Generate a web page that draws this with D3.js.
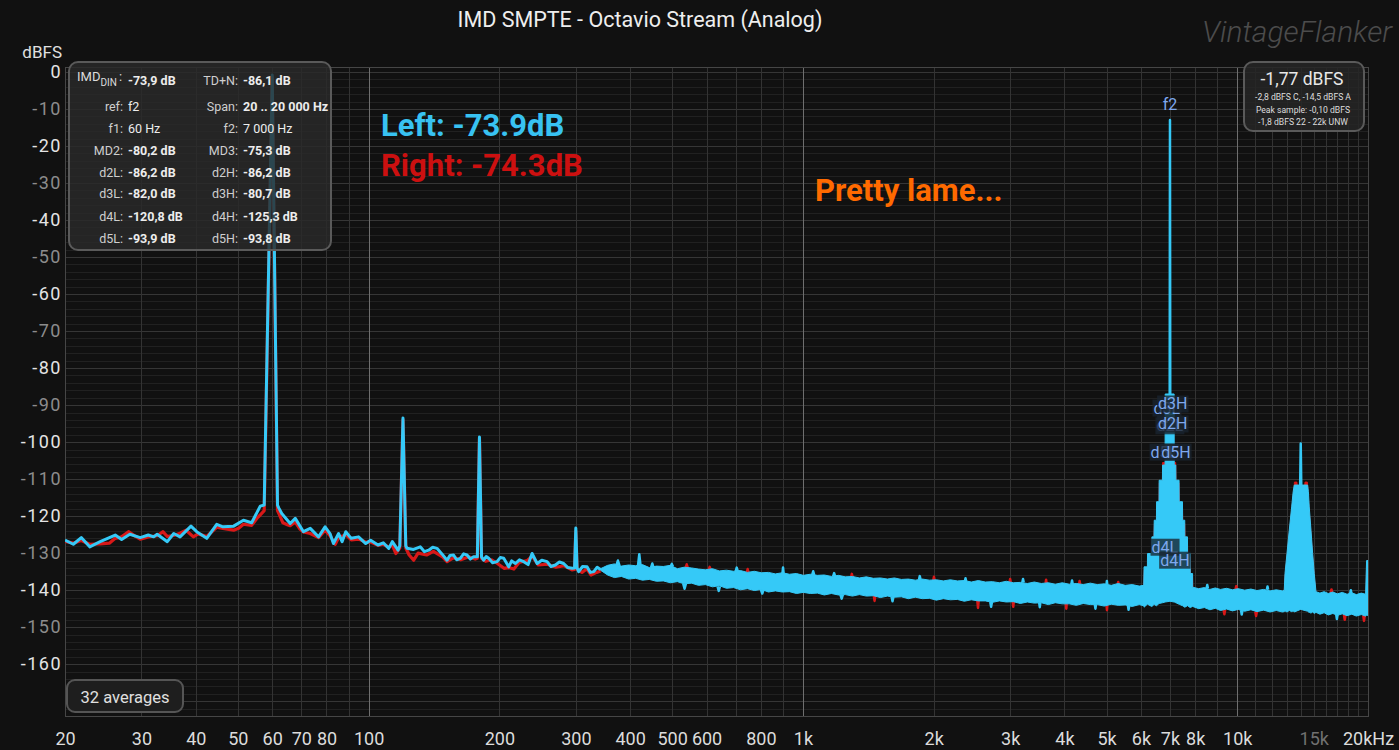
<!DOCTYPE html>
<html><head><meta charset="utf-8">
<script src="https://cdn.jsdelivr.net/npm/d3@7"></script>
<style>
body{margin:0;background:#111111;overflow:hidden}
svg{display:block}
text{font-family:Roboto,"Open Sans",sans-serif}
</style></head>
<body><svg id="c" width="1399" height="750"></svg>
<script>
// ---------------- DATA ----------------
const titleText = "IMD SMPTE - Octavio Stream (Analog)";
const xTickValues = [20,30,40,50,60,70,80,100,200,300,400,500,600,800,1000,2000,3000,4000,5000,6000,7000,8000,10000,15000,20000];
const xTickLabels = ["20","30","40","50","60","70","80","100","200","300","400","500","600","800","1k","2k","3k","4k","5k","6k","7k","8k","10k","15k","20kHz"];
const yTickValues = [0,-10,-20,-30,-40,-50,-60,-70,-80,-90,-100,-110,-120,-130,-140,-150,-160];
const gridFreqs = [30,40,50,60,70,80,90,100,200,300,400,500,600,700,800,900,1000,2000,3000,4000,5000,6000,7000,8000,9000,10000,11000,12000,13000,14000,15000,16000,17000,18000,19000];
const majorGridFreqs = [100,1000,10000];

// Left channel, low-frequency line [Hz, dBFS]
const leftLow = [[20,-126.5],[20.9,-127.6],[21.8,-125.8],[22.8,-128.3],[24.1,-126.9],[26.1,-125.1],[27.0,-126.3],[28.2,-124.9],[29.8,-125.8],[31.1,-125.1],[32.0,-125.6],[32.6,-124.9],[34.4,-126.9],[35.6,-124.7],[36.8,-125.6],[39.0,-122.7],[40.2,-124.2],[42.4,-126.0],[44.7,-122.2],[46.2,-122.9],[48.9,-122.7],[51.5,-121.1],[53.8,-121.8],[56.3,-117.3],[57.5,-117.0],[60,-0.8],[61.7,-117.0],[62.2,-117.9],[63.1,-119.3],[66.0,-122.0],[67.8,-120.6],[70.8,-124.2],[73.4,-123.3],[76.7,-125.6],[79.4,-122.9],[81.5,-124.7],[83.0,-127.4],[85.3,-124.7],[86.9,-126.9],[88.6,-124.2],[91.2,-126.0],[94.8,-125.6],[98.5,-127.4],[101.1,-126.5],[105.1,-127.8],[108.1,-127.2],[111.3,-128.7],[113.4,-126.9],[116.9,-129.2],[118,-128.0],[120,-93.5],[121.8,-128.0],[122.6,-128.7],[126.9,-129.0],[131.5,-128.3],[134.5,-129.6],[137.5,-129.2],[140.5,-128.4],[143.7,-128.7],[147.5,-130.2],[151.6,-131.9],[154.0,-130.6],[156.9,-130.5],[159.5,-131.8],[162.6,-131.4],[165.5,-130.2],[168.5,-130.5],[171.5,-131.6],[174.5,-131.0],[178,-131.0],[180,-98.6],[182,-131.0],[184,-131.9],[186.5,-130.9],[189,-131.4],[193.0,-132.6],[197.6,-132.3],[201.0,-131.2],[204.7,-131.4],[210.2,-133.7],[213.5,-132.1],[217.8,-132.8],[222.5,-131.8],[227.6,-132.3],[233.0,-133.1],[237.9,-130.1],[244.4,-132.8],[250.5,-131.9],[257.6,-132.3],[263.0,-133.6],[269.2,-133.2],[275.0,-132.4],[281.3,-132.8],[287.5,-133.9],[294.2,-134.1],[298,-134.0],[300,-123.2],[302,-134.0],[304.6,-135.0],[311.0,-133.6],[318.4,-133.7],[324.0,-135.2],[330,-135.0],[336.0,-133.8],[342,-134.4]];

// Right channel, low-frequency line [Hz, dBFS]
const rightLow = [[20,-126.8],[20.9,-127.3],[21.8,-126.6],[22.8,-127.6],[24.1,-127.5],[25.3,-127.3],[26.1,-126.0],[27.0,-125.6],[28.0,-124.2],[29.0,-125.4],[29.8,-126.2],[31.1,-125.6],[32.6,-125.3],[33.6,-124.2],[34.4,-125.5],[35.6,-125.2],[36.8,-124.6],[38.0,-123.8],[39.5,-125.6],[40.5,-124.8],[42.4,-125.5],[44.7,-123.0],[46.2,-123.3],[48.9,-123.8],[50.2,-123.3],[51.5,-122.2],[53.8,-122.5],[55.5,-120.4],[56.3,-119.7],[57.5,-118.5],[60,-1.5],[61.7,-118.5],[62.2,-119.4],[63.5,-121.8],[65,-122.3],[66.0,-122.6],[67.8,-121.6],[69.5,-123.5],[70.8,-124.3],[73.4,-124.7],[76.7,-125.8],[79.4,-123.8],[81.5,-125.3],[83.8,-127.6],[85.3,-125.8],[88.6,-125.0],[91.2,-126.4],[94.8,-126.2],[98.5,-127.0],[101.1,-127.0],[105.1,-127.9],[108.1,-127.6],[111.3,-128.4],[113.4,-127.8],[115.5,-130.1],[118,-128.6],[120,-94],[121.8,-128.6],[124,-130.5],[127,-131.9],[130,-130.0],[136,-130.5],[141,-129.5],[148,-131.0],[151.6,-132.3],[157,-131.2],[163,-131.8],[170,-131.0],[176,-131.6],[178,-131.4],[180,-99],[182,-131.4],[186,-132.2],[192,-131.8],[198,-132.8],[205,-134.1],[210,-133.9],[216,-134.3],[222,-132.5],[232,-132.0],[238,-130.8],[246,-133.2],[258,-133.0],[270,-133.8],[282,-133.4],[294,-134.5],[298,-134.4],[300,-124],[302,-134.4],[310,-135.2],[318,-134.2],[325,-135.9],[335,-135.2],[342,-134.8]];

// Left channel, dense noise band [Hz, upper dBFS, lower dBFS]
const leftBand = [[342,-134.2,-134.6],[355,-133.3,-135.9],[368,-132.9,-136.6],[382,-133.5,-136.3],[397,-133.2,-137.0],[412,-133.4,-136.8],[427,-133.1,-137.3],[443,-133.9,-137.1],[460,-133.5,-137.6],[477,-133.6,-137.5],[495,-133.3,-138.0],[514,-134.2,-137.7],[533,-133.8,-138.3],[554,-134.0,-138.1],[575,-134.3,-138.7],[596,-134.5,-138.5],[619,-134.2,-139.1],[642,-134.8,-138.8],[667,-134.6,-139.5],[692,-134.9,-139.3],[718,-134.7,-139.9],[745,-135.2,-139.6],[773,-134.9,-140.1],[802,-135.3,-139.8],[833,-135.2,-140.5],[864,-135.6,-140.2],[897,-135.3,-140.5],[931,-135.7,-140.4],[966,-135.5,-140.9],[1002,-136.0,-140.6],[1040,-135.7,-140.9],[1080,-136.0,-140.8],[1120,-135.9,-141.3],[1163,-136.3,-140.9],[1207,-136.0,-141.3],[1252,-136.4,-141.2],[1300,-136.3,-141.6],[1349,-136.7,-141.2],[1400,-136.4,-141.6],[1453,-136.8,-141.5],[1508,-136.7,-142.0],[1565,-137.0,-141.6],[1624,-136.7,-141.9],[1685,-137.1,-141.8],[1749,-137.0,-142.3],[1815,-137.3,-141.9],[1884,-137.0,-142.3],[1955,-137.3,-142.2],[2029,-137.2,-142.7],[2105,-137.5,-142.3],[2185,-137.2,-142.6],[2268,-137.5,-142.5],[2353,-137.4,-143.0],[2442,-137.8,-142.6],[2534,-137.4,-142.9],[2630,-137.8,-142.9],[2730,-137.7,-143.3],[2833,-138.0,-142.9],[2940,-137.6,-143.2],[3051,-138.0,-143.1],[3166,-137.9,-143.6],[3286,-138.2,-143.2],[3410,-137.8,-143.5],[3539,-138.2,-143.4],[3673,-138.0,-143.9],[3811,-138.4,-143.4],[3955,-138.0,-143.7],[4105,-138.4,-143.7],[4260,-138.2,-144.1],[4421,-138.5,-143.6],[4588,-138.1,-143.9],[4761,-138.5,-143.9],[4941,-138.3,-144.3],[5128,-138.7,-143.8],[5321,-138.2,-144.1],[5522,-138.7,-144.0],[5731,-138.5,-144.4],[5948,-138.9,-143.9],[6080,-138.7,-144.2],
 [6090,-139.0,-144.0],[6102,-133.7,-144.6],[6210,-133.7,-143.8],[6215,-130.1,-143.8],[6350,-130.1,-144.4],[6360,-125.6,-144.4],[6430,-125.6,-143.9],[6440,-121.1,-143.9],[6515,-121.1,-144.2],[6520,-116.1,-144.2],[6605,-116.1,-143.6],[6610,-110.3,-143.6],[6725,-110.3,-143.4],[6730,-106.2,-143.4],[6820,-106.2,-143.2],[6825,-87,-143.2],[7000,-87,-143.0],[7155,-87,-143.2],[7160,-106.2,-143.2],[7220,-106.2,-143.4],[7225,-110.3,-143.4],[7345,-110.3,-143.8],[7350,-116.1,-143.8],[7480,-116.1,-144.2],[7485,-121.1,-144.2],[7570,-121.1,-144.6],[7575,-125.6,-144.6],[7680,-125.6,-144.2],[7685,-130.1,-144.2],[7790,-130.1,-144.7],[7795,-135.5,-144.7],[7890,-135.5,-144.4],[7895,-139.2,-144.4],
 [8150,-139.6,-145.0],[8400,-139.3,-144.7],[8650,-139.8,-145.3],[8900,-139.4,-144.9],[9150,-139.8,-145.5],[9450,-139.5,-145.1],[9750,-139.9,-145.6],[10050,-139.6,-145.2],[10400,-140.0,-145.7],[10750,-139.7,-145.3],[11100,-140.1,-145.8],[11500,-139.8,-145.4],[11900,-140.2,-145.9],[12300,-139.9,-145.5],[12700,-140.2,-145.9],[12830,-140.0,-145.8],
 [12880,-135.5,-145.6],[13016,-130.1,-145.9],[13176,-123.8,-145.5],[13344,-117.5,-145.8],[13450,-113.4,-145.6],[13530,-111.6,-145.9],[14000,-111.6,-145.2],[14522,-111.6,-145.7],[14580,-113.4,-145.9],[14646,-117.5,-146.0],[14782,-123.8,-146.2],[14914,-130.1,-145.9],[15042,-135.5,-146.3],[15178,-140.4,-146.0],
 [15500,-140.8,-146.5],[15850,-140.4,-146.1],[16200,-140.9,-146.7],[16600,-140.5,-146.3],[17000,-141.0,-146.8],[17450,-140.6,-146.4],[17900,-141.1,-146.9],[18350,-140.7,-146.5],[18800,-141.2,-147.0],[19300,-140.8,-146.6],[19750,-141.1,-147.0],[19850,-132.0,-146.8],[20000,-132.0,-146.8]];

// Right channel, dense noise band [Hz, upper dBFS, lower dBFS]
const rightBand = [[342,-134.5,-134.7],[380,-133.9,-135.9],[450,-134.3,-136.7],[520,-134.6,-137.3],[600,-135.0,-138.1],[700,-135.4,-138.9],[800,-135.7,-139.4],[900,-136.0,-139.9],[1000,-136.4,-140.2],[1150,-136.6,-140.5],[1300,-136.9,-140.9],[1500,-137.3,-141.2],[1700,-137.5,-141.4],[2000,-137.8,-141.9],[2300,-138.0,-142.2],[2600,-138.2,-142.5],[2900,-138.3,-142.8],[3300,-138.5,-143.0],[3700,-138.6,-143.2],[4200,-138.8,-143.4],[4800,-138.9,-143.6],[5400,-139.0,-143.7],[6000,-139.2,-143.6],
 [6090,-139.5,-143.5],[6108,-134.5,-143.5],[6210,-134.5,-143.5],[6220,-131.0,-143.5],[6350,-131.0,-143.5],[6365,-126.5,-143.5],[6430,-126.5,-143.3],[6445,-122.0,-143.3],[6515,-122.0,-143.3],[6525,-117.0,-143.3],[6605,-117.0,-143.2],[6615,-111.0,-143.2],[6725,-111.0,-143.0],[6732,-105.5,-143.0],[6800,-105.5,-142.8],[6805,-107.0,-142.8],[7170,-107.0,-142.8],[7175,-105.5,-142.8],[7215,-105.5,-143.0],[7226,-111.0,-143.0],[7345,-111.0,-143.3],[7355,-117.0,-143.3],[7480,-117.0,-143.5],[7490,-122.0,-143.5],[7570,-122.0,-143.7],[7580,-126.5,-143.7],[7680,-126.5,-143.7],[7690,-131.0,-143.7],[7790,-131.0,-143.8],[7800,-136.0,-143.8],[7890,-136.0,-143.8],[7900,-139.6,-143.8],
 [8800,-140.0,-144.5],[9500,-140.1,-144.7],[10000,-140.1,-144.8],[10600,-140.3,-145.0],[11400,-140.4,-145.1],[12200,-140.5,-145.2],[12830,-140.5,-145.3],
 [12880,-136.5,-145.3],[13016,-131.0,-145.3],[13176,-124.8,-145.3],[13344,-118.5,-145.3],[13450,-114.4,-145.3],[13520,-112.5,-145.3],[13540,-110.8,-145.3],[13720,-110.8,-145.2],[13760,-112.5,-145.0],[14280,-112.5,-145.0],[14320,-110.8,-145.2],[14500,-110.8,-145.3],[14530,-112.6,-145.4],[14646,-118.5,-145.5],[14782,-124.8,-145.6],[14914,-131.0,-145.6],[15042,-136.5,-145.6],[15178,-140.9,-145.6],
 [16000,-141.1,-146.0],[17000,-141.3,-146.2],[18000,-141.4,-146.3],[19000,-141.5,-146.4],[19800,-141.5,-146.5],[19850,-133.0,-146.5],[20000,-133.0,-146.5]];

// Narrow spectral lines / spikes, left channel [Hz, dBFS]
const leftSpikes = [
  [[372,-133.3],[375,-132.0],[378,-133.3]],
  [[417,-133.6],[420,-130.3],[423,-133.6]],
  [[447,-133.9],[450,-132.8],[453,-133.9]],
  [[496,-133.6],[499,-132.9],[502,-133.6]],
  [[530,-138.2],[534,-139.6],[538,-138.2]],
  [[636,-139.0],[640,-140.2],[644,-139.0]],
  [[700,-134.9],[704,-133.9],[708,-134.9]],
  [[800,-139.8],[806,-140.9],[812,-139.8]],
  [[897,-135.6],[900,-133.9],[903,-135.6]],
  [[1050,-135.9],[1056,-134.9],[1062,-135.9]],
  [[1174,-136.3],[1180,-135.4],[1186,-136.3]],
  [[1220,-141.2],[1228,-142.3],[1236,-141.2]],
  [[1600,-141.8],[1608,-143.0],[1616,-141.8]],
  [[1850,-137.2],[1858,-136.2],[1866,-137.2]],
  [[2360,-137.6],[2368,-136.8],[2376,-137.6]],
  [[2700,-143.2],[2712,-144.5],[2724,-143.2]],
  [[3200,-137.9],[3212,-137.0],[3224,-137.9]],
  [[3500,-143.4],[3510,-144.6],[3520,-143.4]],
  [[4150,-138.4],[4165,-137.4],[4180,-138.4]],
  [[4700,-143.9],[4715,-145.0],[4730,-143.9]],
  [[5000,-138.5],[5010,-137.5],[5020,-138.5]],
  [[5600,-144.1],[5620,-145.3],[5640,-144.1]],
  [[6990,-87],[7000,-13],[7010,-87]],
  [[8500,-139.5],[8530,-138.6],[8560,-139.5]],
  [[10200,-145.4],[10240,-146.6],[10280,-145.4]],
  [[11700,-139.9],[11740,-139.0],[11780,-139.9]],
  [[13960,-111.6],[14000,-100.4],[14040,-111.6]],
  [[16900,-146.6],[16960,-147.8],[17020,-146.6]],
  [[18200,-140.9],[18260,-140.0],[18320,-140.9]]
];

// Spikes, right channel [Hz, dBFS]
const rightSpikes = [
  [[536,-134.2],[540,-133.0],[544,-134.2]],
  [[606,-134.6],[610,-133.7],[614,-134.6]],
  [[742,-135.3],[746,-134.3],[750,-135.3]],
  [[1290,-136.6],[1296,-135.6],[1302,-136.6]],
  [[1455,-141.2],[1462,-142.9],[1469,-141.2]],
  [[1995,-137.4],[2003,-136.4],[2011,-137.4]],
  [[2520,-142.6],[2530,-144.8],[2540,-142.6]],
  [[2990,-137.9],[3000,-137.0],[3010,-137.9]],
  [[3040,-142.9],[3050,-144.5],[3060,-142.9]],
  [[3620,-138.2],[3630,-137.2],[3640,-138.2]],
  [[4030,-143.6],[4040,-145.0],[4050,-143.6]],
  [[4320,-138.5],[4335,-137.5],[4350,-138.5]],
  [[5000,-143.9],[5012,-145.4],[5024,-143.9]],
  [[5300,-138.7],[5320,-137.8],[5340,-138.7]],
  [[9300,-145.3],[9340,-146.5],[9380,-145.3]],
  [[9900,-139.9],[9950,-138.9],[10000,-139.9]],
  [[11000,-145.8],[11050,-147.0],[11100,-145.8]],
  [[16400,-140.8],[16480,-139.8],[16560,-140.8]],
  [[17600,-146.5],[17680,-148.0],[17760,-146.5]],
  [[19500,-146.8],[19580,-148.3],[19660,-146.8]]
];

// Product markers near f2
const markerText = ["d3L","d3H","d2L","d2H","d5L","d5H","d4L","d4H","f2"];
const markerFreq = [6884,7106,6990,7106,6776,7222,6812,7184,7000];
const markerDb   = [-90.8,-89.7,-95.6,-95.1,-102.7,-102.7,-128.4,-131.9,-8.9];

// Info panel
const infoLeftLabels  = ["","ref:","f1:","MD2:","d2L:","d3L:","d4L:","d5L:"];
const infoLeftValues  = ["-73,9 dB","f2","60 Hz","-80,2 dB","-86,2 dB","-82,0 dB","-120,8 dB","-93,9 dB"];
const infoRightLabels = ["TD+N:","Span:","f2:","MD3:","d2H:","d3H:","d4H:","d5H:"];
const infoRightValues = ["-86,1 dB","20 .. 20 000 Hz","7 000 Hz","-75,3 dB","-86,2 dB","-80,7 dB","-125,3 dB","-93,8 dB"];
const levelMain = "-1,77 dBFS";
const levelLines = ["-2,8 dBFS C, -14,5 dBFS A","Peak sample: -0,10 dBFS","-1,8 dBFS 22 - 22k UNW"];
const annotations = ["Left: -73.9dB","Right: -74.3dB","Pretty lame..."];
const averagesText = "32 averages";
const watermark = "VintageFlanker";

// ---------------- DRAW ----------------
const svg = d3.select("#c");
const P = {l:65, r:1368, t:67, b:716};
const x = d3.scaleLog().domain([20,20000]).range([P.l,P.r]);
const y = d3.scaleLinear().domain([1.35,-174]).range([P.t,P.b]);
const CYAN = "#35c9f7", RED = "#d81818";

svg.append("rect").attr("width",1399).attr("height",750).attr("fill","#111111");

svg.append("defs").append("clipPath").attr("id","pc")
  .append("rect").attr("x",P.l).attr("y",P.t).attr("width",P.r-P.l).attr("height",P.b-P.t);

const grid = svg.append("g");
grid.selectAll(".hmin").data(d3.range(0,-175,-2)).join("line")
  .attr("x1",P.l).attr("x2",P.r).attr("y1",d=>Math.round(y(d))+0.5).attr("y2",d=>Math.round(y(d))+0.5)
  .attr("stroke",d=>d%10===0?"#363636":"#212121").attr("stroke-width",1);
grid.selectAll(".v").data(gridFreqs).join("line")
  .attr("y1",P.t).attr("y2",P.b).attr("x1",d=>Math.round(x(d))+0.5).attr("x2",d=>Math.round(x(d))+0.5)
  .attr("stroke",d=>majorGridFreqs.includes(d)?"#6e6e6e":"#333333").attr("stroke-width",1);
svg.append("rect").attr("x",P.l+0.5).attr("y",P.t+0.5).attr("width",P.r-P.l).attr("height",P.b-P.t)
  .attr("fill","none").attr("stroke","#464646");

// axes
const xAxis = d3.axisBottom(x).tickValues(xTickValues).tickFormat((d,i)=>xTickLabels[i]).tickSize(0).tickPadding(16);
const gx = svg.append("g").attr("transform",`translate(0,${P.b})`).call(xAxis);
gx.select(".domain").remove();
gx.selectAll("text").attr("font-size",18).attr("font-family","Roboto, sans-serif")
  .attr("fill",d=>d===15000?"#707070":"#dcdcdc");

const yAxis = d3.axisLeft(y).tickValues(yTickValues).tickFormat(d=>String(d)).tickSize(0).tickPadding(0);
const gy = svg.append("g").attr("transform",`translate(62,0)`).call(yAxis);
gy.select(".domain").remove();
gy.selectAll("text").attr("font-size",18).attr("letter-spacing","1.5px").attr("font-family","Roboto, sans-serif")
  .attr("fill",d=>(d%20===0)?"#e4e4e4":"#8c8c8c");

svg.append("text").attr("x",62).attr("y",58).attr("text-anchor","end").attr("font-size",17)
  .attr("fill","#e0e0e0").text("dBFS");

// data
const data = svg.append("g").attr("clip-path","url(#pc)");
const line = d3.line().x(d=>x(d[0])).y(d=>y(d[1]));
const area = d3.area().x(d=>x(d[0])).y0(d=>y(d[2])).y1(d=>y(d[1]));

data.append("path").attr("d",line(rightLow)).attr("fill","none").attr("stroke",RED).attr("stroke-width",3.2).attr("stroke-linejoin","round");
data.append("path").attr("d",area(rightBand)).attr("fill",RED).attr("stroke",RED).attr("stroke-width",1);
rightSpikes.forEach(s=>{
  data.append("path").attr("d",line(s)).attr("fill","none").attr("stroke",RED).attr("stroke-width",2.5).attr("stroke-linejoin","round");
});
data.append("path").attr("d",line(leftLow)).attr("fill","none").attr("stroke",CYAN).attr("stroke-width",3).attr("stroke-linejoin","round");
data.append("path").attr("d",area(leftBand)).attr("fill",CYAN).attr("stroke",CYAN).attr("stroke-width",1);
leftSpikes.forEach(s=>{
  data.append("path").attr("d",line(s)).attr("fill","none").attr("stroke",CYAN).attr("stroke-width",2.5).attr("stroke-linejoin","round");
});

// markers
const mk = svg.append("g");
markerText.forEach((t,i)=>{
  const g = mk.append("g");
  const tx = g.append("text").attr("x",x(markerFreq[i])).attr("y",y(markerDb[i])).attr("text-anchor","middle")
    .attr("dominant-baseline","central").attr("font-size",16).attr("fill","#7ea8ee").text(t);
  const bb = tx.node().getBBox();
  if (t!=="f2") g.insert("rect","text").attr("x",bb.x-1).attr("y",bb.y+1).attr("width",bb.width+2).attr("height",bb.height-2)
    .attr("fill","#1a2430").attr("opacity",0.78);
});

// info panel
const ip = svg.append("g");
ip.append("rect").attr("x",69).attr("y",62).attr("width",262).attr("height",188).attr("rx",9)
  .attr("fill","#2a2a2a").attr("fill-opacity",0.82).attr("stroke","#5a5a5a").attr("stroke-width",2);
const rowsY = [80,106,128,150,172,193,216,238];
const plain = ["f2","60 Hz","7 000 Hz"];
rowsY.forEach((ry,i)=>{
  const by = ry+4.5;
  if (infoLeftLabels[i]) ip.append("text").attr("x",123).attr("y",by).attr("text-anchor","end").attr("font-size",12.5).attr("fill","#cfcfcf").text(infoLeftLabels[i]);
  ip.append("text").attr("x",128).attr("y",by).attr("font-size",12.5).attr("font-weight",plain.includes(infoLeftValues[i])?400:700)
    .attr("fill","#ededed").text(infoLeftValues[i]);
  ip.append("text").attr("x",238).attr("y",by).attr("text-anchor","end").attr("font-size",12.5).attr("fill","#cfcfcf").text(infoRightLabels[i]);
  ip.append("text").attr("x",243).attr("y",by).attr("font-size",12.5).attr("font-weight",plain.includes(infoRightValues[i])?400:700)
    .attr("fill","#ededed").text(infoRightValues[i]);
});
const imd = ip.append("text").attr("x",77).attr("y",81).attr("font-size",13).attr("fill","#dcdcdc");
imd.append("tspan").text("IMD");
imd.append("tspan").attr("font-size",10).attr("dy",5).text("DIN");
ip.append("text").attr("x",119).attr("y",81).attr("font-size",13).attr("fill","#dcdcdc").text(":");

// level panel
const lp = svg.append("g");
lp.append("rect").attr("x",1244).attr("y",62).attr("width",120).attr("height",69).attr("rx",9)
  .attr("fill","#262626").attr("fill-opacity",0.85).attr("stroke","#5a5a5a").attr("stroke-width",2);
lp.append("text").attr("x",1302).attr("y",85).attr("text-anchor","middle").attr("font-size",17.5).attr("fill","#e8e8e8").text(levelMain);
levelLines.forEach((t,i)=>{
  lp.append("text").attr("x",1303).attr("y",100+i*12.5).attr("text-anchor","middle").attr("font-size",8.6).attr("fill","#dddddd").text(t);
});

// averages
svg.append("rect").attr("x",67).attr("y",680).attr("width",116).attr("height",32).attr("rx",8)
  .attr("fill","#1e1e1e").attr("stroke","#555").attr("stroke-width",2);
svg.append("text").attr("x",125).attr("y",703).attr("text-anchor","middle").attr("font-size",16.5).attr("fill","#e0e0e0").text(averagesText);

// annotations
const annX = [381,381,815], annY = [136,176,201], annC = ["#38c2f2","#cc1010","#ff6a00"];
annotations.forEach((t,i)=>{
  svg.append("text").attr("x",annX[i]).attr("y",annY[i]).attr("font-size",31).attr("font-weight",700)
    .attr("fill",annC[i]).text(t);
});

// title & watermark
svg.append("text").attr("x",640).attr("y",27).attr("text-anchor","middle").attr("font-size",21.5).attr("fill","#eeeeee").text(titleText);
svg.append("text").attr("x",1392).attr("y",42).attr("text-anchor","end").attr("font-size",30).attr("font-style","italic")
  .attr("font-weight",300).attr("fill","#4c4c4c").text(watermark);
</script>
</body></html>
